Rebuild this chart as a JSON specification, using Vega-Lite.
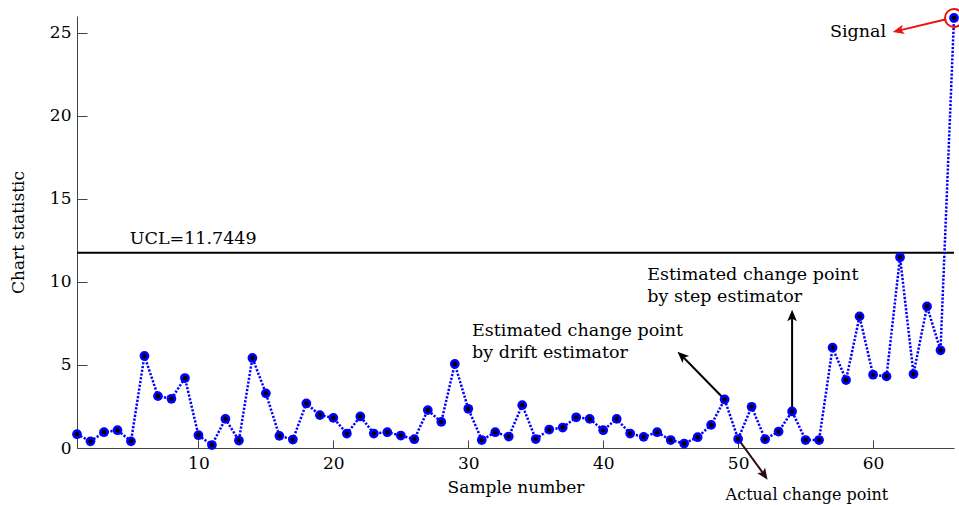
{
  "$schema": "https://vega.github.io/schema/vega-lite/v6.json",
  "width": 877,
  "height": 432,
  "autosize": {"type": "none"},
  "padding": {"left": 77, "top": 16, "right": 5, "bottom": 57},
  "background": "white",
  "config": {
    "view": {"stroke": null},
    "font": "DejaVu Serif",
    "axis": {
      "labelFont": "DejaVu Serif",
      "labelFontSize": 17,
      "labelColor": "black",
      "titleFont": "DejaVu Serif",
      "titleFontSize": 17,
      "titleFontWeight": "normal",
      "titleColor": "black",
      "domainColor": "#444444",
      "tickColor": "#444444",
      "grid": false
    }
  },
  "datasets": {
    "series": [
      {"sample": 1, "value": 0.83}, {"sample": 2, "value": 0.40}, {"sample": 3, "value": 0.95},
      {"sample": 4, "value": 1.07}, {"sample": 5, "value": 0.40}, {"sample": 6, "value": 5.54},
      {"sample": 7, "value": 3.12}, {"sample": 8, "value": 2.96}, {"sample": 9, "value": 4.21},
      {"sample": 10, "value": 0.77}, {"sample": 11, "value": 0.18}, {"sample": 12, "value": 1.75},
      {"sample": 13, "value": 0.45}, {"sample": 14, "value": 5.42}, {"sample": 15, "value": 3.29},
      {"sample": 16, "value": 0.73}, {"sample": 17, "value": 0.51}, {"sample": 18, "value": 2.68},
      {"sample": 19, "value": 1.98}, {"sample": 20, "value": 1.81}, {"sample": 21, "value": 0.87},
      {"sample": 22, "value": 1.90}, {"sample": 23, "value": 0.87}, {"sample": 24, "value": 0.95},
      {"sample": 25, "value": 0.75}, {"sample": 26, "value": 0.53}, {"sample": 27, "value": 2.28},
      {"sample": 28, "value": 1.57}, {"sample": 29, "value": 5.06}, {"sample": 30, "value": 2.36},
      {"sample": 31, "value": 0.48}, {"sample": 32, "value": 0.95}, {"sample": 33, "value": 0.69},
      {"sample": 34, "value": 2.58}, {"sample": 35, "value": 0.54}, {"sample": 36, "value": 1.11},
      {"sample": 37, "value": 1.23}, {"sample": 38, "value": 1.85}, {"sample": 39, "value": 1.75},
      {"sample": 40, "value": 1.07}, {"sample": 41, "value": 1.75}, {"sample": 42, "value": 0.87},
      {"sample": 43, "value": 0.67}, {"sample": 44, "value": 0.95}, {"sample": 45, "value": 0.48},
      {"sample": 46, "value": 0.27}, {"sample": 47, "value": 0.65}, {"sample": 48, "value": 1.39},
      {"sample": 49, "value": 2.92}, {"sample": 50, "value": 0.54}, {"sample": 51, "value": 2.48},
      {"sample": 52, "value": 0.53}, {"sample": 53, "value": 0.99}, {"sample": 54, "value": 2.20},
      {"sample": 55, "value": 0.48}, {"sample": 56, "value": 0.48}, {"sample": 57, "value": 6.04},
      {"sample": 58, "value": 4.09}, {"sample": 59, "value": 7.92}, {"sample": 60, "value": 4.41},
      {"sample": 61, "value": 4.31}, {"sample": 62, "value": 11.48}, {"sample": 63, "value": 4.45},
      {"sample": 64, "value": 8.52}, {"sample": 65, "value": 5.88}, {"sample": 66, "value": 25.88}
    ],
    "ucl": [{"x": 1, "x2": 66, "ucl": 11.7449, "label": "UCL=11.7449", "lx": 4.91, "ly": 12.25}],
    "arrows": [
      {"name": "step", "x": 54, "y": 2.2, "x2": 54, "y2": 7.96},
      {"name": "drift", "x": 49, "y": 2.92, "x2": 45.83, "y2": 5.55},
      {"name": "actual", "x": 50, "y": 0.54, "x2": 51.93, "y2": -1.61},
      {"name": "signal", "x": 65.42, "y": 25.8, "x2": 61.89, "y2": 25.12}
    ],
    "texts": [
      {"name": "step", "x": 43.27, "y": 10.09, "text": "Estimated change point"},
      {"name": "step", "x": 43.27, "y": 8.76, "text": "by step estimator"},
      {"name": "drift", "x": 30.28, "y": 6.75, "text": "Estimated change point"},
      {"name": "drift", "x": 30.28, "y": 5.42, "text": "by drift estimator"}
    ]
  },
  "layer": [
    {
      "data": {"name": "ucl"},
      "mark": {"type": "rule", "color": "black", "strokeWidth": 2},
      "encoding": {
        "x": {"field": "x", "type": "quantitative", "scale": {"domain": [1, 66], "nice": false, "zero": false},
          "axis": {"title": "Sample number", "values": [10, 20, 30, 40, 50, 60], "tickSize": -8, "labelPadding": 15, "titlePadding": 8}},
        "x2": {"field": "x2"},
        "y": {"field": "ucl", "type": "quantitative", "scale": {"domain": [0, 26], "nice": false},
          "axis": {"title": "Chart statistic", "values": [0, 5, 10, 15, 20, 25], "tickSize": -10, "labelPadding": 16, "titlePadding": 22}}
      }
    },
    {
      "data": {"name": "ucl"},
      "mark": {"type": "text", "align": "left", "baseline": "alphabetic", "font": "DejaVu Serif", "fontSize": 17.5, "color": "black"},
      "encoding": {
        "x": {"field": "lx", "type": "quantitative"},
        "y": {"field": "ly", "type": "quantitative"},
        "text": {"field": "label"}
      }
    },
    {
      "data": {"name": "arrows"},
      "mark": {"type": "rule", "strokeWidth": 2},
      "encoding": {
        "x": {"field": "x", "type": "quantitative"},
        "y": {"field": "y", "type": "quantitative"},
        "x2": {"field": "x2"},
        "y2": {"field": "y2"},
        "color": {"field": "name", "type": "nominal", "legend": null,
          "scale": {"domain": ["step", "drift", "actual", "signal"], "range": ["#000000", "#000000", "#2a0a18", "#ee1111"]}}
      }
    },
    {
      "data": {"name": "series"},
      "mark": {"type": "line", "color": "#0000ff", "strokeWidth": 2.5, "strokeDash": [2.2, 1.6]},
      "encoding": {
        "x": {"field": "sample", "type": "quantitative"},
        "y": {"field": "value", "type": "quantitative"}
      }
    },
    {
      "data": {"name": "series"},
      "mark": {"type": "point", "shape": "circle", "filled": true, "color": "#0000ff", "size": 95, "opacity": 1},
      "encoding": {
        "x": {"field": "sample", "type": "quantitative"},
        "y": {"field": "value", "type": "quantitative"}
      }
    },
    {
      "data": {"name": "series"},
      "mark": {"type": "point", "shape": "circle", "filled": true, "color": "#000000", "size": 22, "opacity": 1},
      "encoding": {
        "x": {"field": "sample", "type": "quantitative"},
        "y": {"field": "value", "type": "quantitative"}
      }
    },
    {
      "data": {"name": "series"},
      "transform": [{"filter": "datum.sample == 66"}],
      "mark": {"type": "point", "shape": "circle", "filled": false, "color": "#ee1111", "strokeWidth": 2, "size": 324, "opacity": 1},
      "encoding": {
        "x": {"field": "sample", "type": "quantitative"},
        "y": {"field": "value", "type": "quantitative"}
      }
    },
    {
      "data": {"name": "arrows"},
      "transform": [{"filter": "datum.name == 'step'"}],
      "mark": {"type": "point", "shape": "M0,-1L-0.8,0.9L0,0.45L0.8,0.9Z", "filled": true, "color": "#000000", "size": 144, "opacity": 1, "angle": 0},
      "encoding": {
        "x": {"field": "x2", "type": "quantitative"},
        "y": {"field": "y2", "type": "quantitative"}
      }
    },
    {
      "data": {"name": "arrows"},
      "transform": [{"filter": "datum.name == 'drift'"}],
      "mark": {"type": "point", "shape": "M0,-1L-0.8,0.9L0,0.45L0.8,0.9Z", "filled": true, "color": "#000000", "size": 144, "opacity": 1, "angle": 313},
      "encoding": {
        "x": {"field": "x2", "type": "quantitative"},
        "y": {"field": "y2", "type": "quantitative"}
      }
    },
    {
      "data": {"name": "arrows"},
      "transform": [{"filter": "datum.name == 'actual'"}],
      "mark": {"type": "point", "shape": "M0,-1L-0.8,0.9L0,0.45L0.8,0.9Z", "filled": true, "color": "#2a0a18", "size": 144, "opacity": 1, "angle": 145.5},
      "encoding": {
        "x": {"field": "x2", "type": "quantitative"},
        "y": {"field": "y2", "type": "quantitative"}
      }
    },
    {
      "data": {"name": "arrows"},
      "transform": [{"filter": "datum.name == 'signal'"}],
      "mark": {"type": "point", "shape": "M0,-1L-0.8,0.9L0,0.45L0.8,0.9Z", "filled": true, "color": "#ee1111", "size": 144, "opacity": 1, "angle": 256.7},
      "encoding": {
        "x": {"field": "x2", "type": "quantitative"},
        "y": {"field": "y2", "type": "quantitative"}
      }
    },
    {
      "data": {"name": "texts"},
      "mark": {"type": "text", "align": "left", "baseline": "alphabetic", "font": "DejaVu Serif", "fontSize": 17.5, "color": "black"},
      "encoding": {
        "x": {"field": "x", "type": "quantitative"},
        "y": {"field": "y", "type": "quantitative"},
        "text": {"field": "text"}
      }
    },
    {
      "data": {"values": [{"x": 55.1, "y": -3.1, "text": "Actual change point"}]},
      "mark": {"type": "text", "align": "center", "baseline": "alphabetic", "font": "DejaVu Serif", "fontSize": 16, "color": "black"},
      "encoding": {
        "x": {"field": "x", "type": "quantitative"},
        "y": {"field": "y", "type": "quantitative"},
        "text": {"field": "text"}
      }
    },
    {
      "data": {"values": [{"x": 60.96, "y": 24.76, "text": "Signal"}]},
      "mark": {"type": "text", "align": "right", "baseline": "alphabetic", "font": "DejaVu Serif", "fontSize": 17.5, "color": "black"},
      "encoding": {
        "x": {"field": "x", "type": "quantitative"},
        "y": {"field": "y", "type": "quantitative"},
        "text": {"field": "text"}
      }
    }
  ]
}
